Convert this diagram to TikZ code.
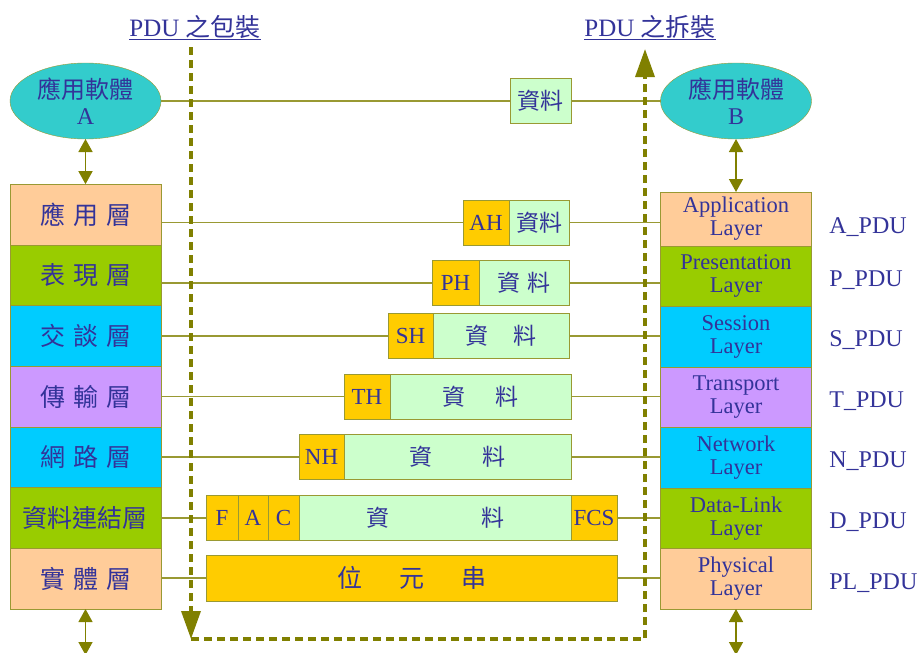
\documentclass[tikz,border=0pt]{standalone}
\usepackage{fontspec}
\setmainfont{Liberation Serif}
\newfontfamily\cjk{Noto Sans CJK TC}
\usepackage{tikz}
\usetikzlibrary{arrows.meta,positioning,shapes.geometric}
\definecolor{olivedk}{RGB}{128,128,0}
\definecolor{oliveln}{RGB}{153,153,51}
\definecolor{txtblue}{RGB}{51,51,153}
\definecolor{peach}{RGB}{255,204,153}
\definecolor{grass}{RGB}{153,204,0}
\definecolor{skyblue}{RGB}{0,204,255}
\definecolor{lilac}{RGB}{204,153,255}
\definecolor{gold}{RGB}{255,204,0}
\definecolor{mint}{RGB}{204,255,204}
\definecolor{appteal}{RGB}{51,204,204}

\begin{document}
\begin{tikzpicture}[x=1pt,y=-1pt,every node/.style={text=txtblue,outer sep=0pt},
	lstack/.style={draw=oliveln,rectangle,minimum width=151pt,minimum height=60.7pt,inner sep=0pt,font=\cjk\fontsize{25}{27}\selectfont},
	rstack/.style={draw=oliveln,rectangle,minimum width=151pt,minimum height=60.5pt,inner sep=0pt,align=center,font=\fontsize{22.5}{23}\selectfont},
	hdr/.style={draw=oliveln,fill=gold,minimum height=45pt,inner sep=0pt,font=\fontsize{23}{24}\selectfont},
	dat/.style={draw=oliveln,fill=mint,minimum height=45pt,inner sep=0pt,font=\cjk\fontsize{23}{25}\selectfont},
	app/.style={draw=oliveln,fill=appteal,ellipse,minimum width=151pt,minimum height=76pt,inner sep=0pt,align=center,font=\fontsize{24}{26}\selectfont},
	pdu/.style={anchor=base west,font=\fontsize{24}{24}\selectfont},
	headline/.style={anchor=base,font=\fontsize{25}{25}\selectfont},
	link/.style={oliveln,line width=1.2pt},
	updown/.style={olivedk,line width=1.5pt,{Triangle[length=13pt,width=14pt]}-{Triangle[length=13pt,width=14pt]}},
	flow/.style={olivedk,line width=3.5pt,dash pattern=on 8pt off 5pt,-{Triangle[length=28pt,width=19pt]}}]
	\useasboundingbox (0,0) rectangle (918,653);

	\node (wraptitle) at (195,36) [headline] {\underline{PDU {\cjk 之包裝}}};
	\node (unwraptitle) at (650,36) [headline] {\underline{PDU {\cjk 之拆裝}}};

	\node (appa) at (85.5,101) [app] {{\cjk 應用軟體}\\A};
	\node (appb) at (736,101) [app] {{\cjk 應用軟體}\\B};
	\node (msg) at (540.5,101) [dat,minimum width=61pt] {資料};

	\node (apl) at (85.5,214.5) [lstack,fill=peach] {應\hspace{8pt}用\hspace{8pt}層};
	\node (prl) [lstack,fill=grass,below=0pt of apl] {表\hspace{8pt}現\hspace{8pt}層};
	\node (ssl) [lstack,fill=skyblue,below=0pt of prl] {交\hspace{8pt}談\hspace{8pt}層};
	\node (trl) [lstack,fill=lilac,below=0pt of ssl] {傳\hspace{8pt}輸\hspace{8pt}層};
	\node (nwl) [lstack,fill=skyblue,below=0pt of trl] {網\hspace{8pt}路\hspace{8pt}層};
	\node (dll) [lstack,fill=grass,below=0pt of nwl] {資料連結層};
	\node (phl) [lstack,fill=peach,below=0pt of dll] {實\hspace{8pt}體\hspace{8pt}層};

	\node (ral) at (736,219) [rstack,fill=peach,minimum height=54pt] {Application\\Layer};
	\node (rpl) [rstack,fill=grass,below=0pt of ral] {Presentation\\Layer};
	\node (rsl) [rstack,fill=skyblue,below=0pt of rpl] {Session\\Layer};
	\node (rtl) [rstack,fill=lilac,below=0pt of rsl] {Transport\\Layer};
	\node (rnl) [rstack,fill=skyblue,below=0pt of rtl] {Network\\Layer};
	\node (rdl) [rstack,fill=grass,below=0pt of rnl] {Data-Link\\Layer};
	\node (rhl) [rstack,fill=peach,below=0pt of rdl] {Physical\\Layer};

	\node (ah) at (463,222.5) [hdr,anchor=west,minimum width=46pt] {AH};
	\node (ahd) [dat,minimum width=60pt,right=0pt of ah] {資料};
	\node (ph) at (432,283) [hdr,anchor=west,minimum width=47pt] {PH};
	\node (phd) [dat,minimum width=90pt,right=0pt of ph] {資\hspace{7pt}料};
	\node (sh) at (388,336) [hdr,anchor=west,minimum width=45pt] {SH};
	\node (shd) [dat,minimum width=136pt,right=0pt of sh] {資\hspace{25pt}料};
	\node (th) at (344,396.5) [hdr,anchor=west,minimum width=46pt] {TH};
	\node (thd) [dat,minimum width=181pt,right=0pt of th] {資\hspace{31pt}料};
	\node (nh) at (299,457) [hdr,anchor=west,minimum width=45pt] {NH};
	\node (nhd) [dat,minimum width=227pt,right=0pt of nh] {資\hspace{50pt}料};
	\node (fflag) at (206,518) [hdr,anchor=west,minimum width=32pt] {F};
	\node (faddr) [hdr,minimum width=30pt,right=0pt of fflag] {A};
	\node (fctrl) [hdr,minimum width=31pt,right=0pt of faddr] {C};
	\node (dld) [dat,minimum width=272pt,right=0pt of fctrl] {資\hspace{92pt}料};
	\node (fcs) [hdr,minimum width=46pt,right=0pt of dld] {FCS};
	\node (bits) at (206,578) [hdr,anchor=west,minimum width=411pt,minimum height=46pt,font=\cjk\fontsize{25}{27}\selectfont] {位\hspace{37pt}元\hspace{37pt}串};

	\node (apdu) at (826,233) [pdu] {A\_PDU};
	\node (ppdu) at (826,286) [pdu] {P\_PDU};
	\node (spdu) at (826,346) [pdu] {S\_PDU};
	\node (tpdu) at (826,407) [pdu] {T\_PDU};
	\node (npdu) at (826,467) [pdu] {N\_PDU};
	\node (dpdu) at (826,528) [pdu] {D\_PDU};
	\node (plpdu) at (826,589) [pdu] {PL\_PDU};

	\draw[link] (appa) -- (msg);
	\draw[link] (msg) -- (appb);
	\draw[link] (apl.east |- ah.west) -- (ah.west);
	\draw[link] (ahd.east) -- (ral.west |- ahd.east);
	\draw[link] (prl.east |- ph.west) -- (ph.west);
	\draw[link] (phd.east) -- (rpl.west |- phd.east);
	\draw[link] (ssl.east |- sh.west) -- (sh.west);
	\draw[link] (shd.east) -- (rsl.west |- shd.east);
	\draw[link] (trl.east |- th.west) -- (th.west);
	\draw[link] (thd.east) -- (rtl.west |- thd.east);
	\draw[link] (nwl.east |- nh.west) -- (nh.west);
	\draw[link] (nhd.east) -- (rnl.west |- nhd.east);
	\draw[link] (dll.east |- fflag.west) -- (fflag.west);
	\draw[link] (fcs.east) -- (rdl.west |- fcs.east);
	\draw[link] (phl.east |- bits.west) -- (bits.west);
	\draw[link] (bits.east) -- (rhl.west |- bits.east);

	\coordinate (lbot) at (85.5,655);
	\coordinate (rbot) at (736,655);
	\draw[updown] (appa) -- (apl);
	\draw[updown] (appb) -- (ral);
	\draw[updown] (phl) -- (lbot);
	\draw[updown] (rhl) -- (rbot);

	\coordinate (wraptop) at (191,47);
	\coordinate (wrapbot) at (191,639);
	\coordinate (unwrapbot) at (645,639);
	\coordinate (unwraptop) at (645,49);
	\draw[flow] (wraptop) -- (wrapbot);
	\draw[flow] (wrapbot) -- (unwrapbot) -- (unwraptop);
\end{tikzpicture}
\end{document}
